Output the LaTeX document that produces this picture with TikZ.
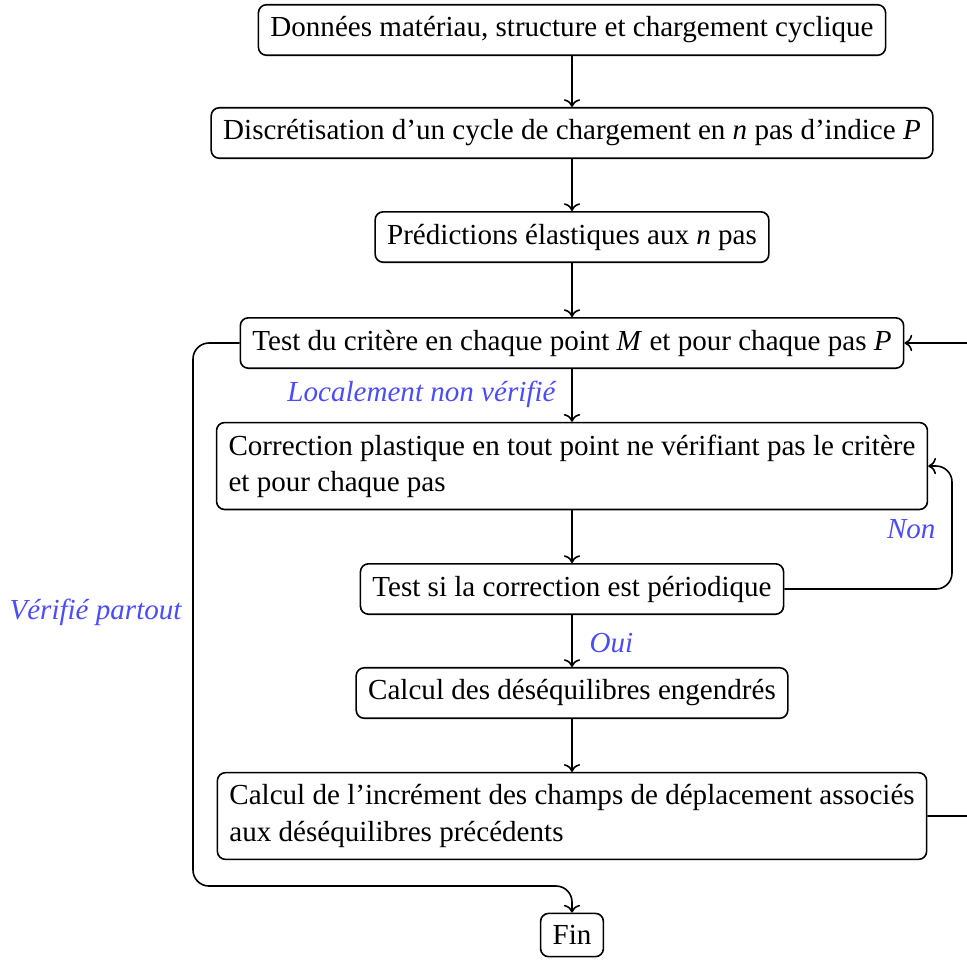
\documentclass[tikz,border=0pt]{standalone}
\usepackage{fontspec}
\setmainfont{Liberation Serif}
\usetikzlibrary{arrows.meta}
\tikzset{
  box/.style={draw, rounded corners=3pt, semithick, inner sep=4.5pt, font=\fontsize{10.9}{13.6}\selectfont},
  widebox/.style={box, align=left},
  flow/.style={->, semithick},
  loop/.style={->, semithick, rounded corners=6pt},
  lab/.style={text=blue!70, font=\fontsize{10.9}{13}\selectfont\itshape, inner sep=0pt}
}
\begin{document}
\begin{tikzpicture}[x=0.375pt, y=-0.375pt]
\useasboundingbox (0,0) rectangle (967,960);
\node[box] (n1) at (572,30) {Données matériau, structure et chargement cyclique};
\node[box] (n2) at (572,133) {Discrétisation d’un cycle de chargement en \textit{n} pas d’indice \textit{P}};
\node[box] (n3) at (572,237) {Prédictions élastiques aux \textit{n} pas};
\node[box] (n4) at (572,343) {Test du critère en chaque point \textit{M} et pour chaque pas \textit{P}};
\node[widebox] (n5) at (572,466) {Correction plastique en tout point ne vérifiant pas le critère\\ et pour chaque pas};
\node[box] (n6) at (572,589) {Test si la correction est périodique};
\node[box] (n7) at (572,693) {Calcul des déséquilibres engendrés};
\node[widebox] (n8) at (572,816) {Calcul de l’incrément des champs de déplacement associés\\ aux déséquilibres précédents};
\node[box] (n9) at (572,935) {Fin};

\draw[flow] (n1) -- (n2);
\draw[flow] (n2) -- (n3);
\draw[flow] (n3) -- (n4);
\draw[flow] (n4) -- (n5);
\draw[flow] (n5) -- (n6);
\draw[flow] (n6) -- (n7);
\draw[flow] (n7) -- (n8);

\coordinate (lc) at (193,886);
\coordinate (rn) at (952,466);
\coordinate (rr) at (985,343);
\draw[loop] (n4.west) -| (lc) -| (n9.north);
\draw[loop] (n6.east) -| (rn) -- (n5.east);
\draw[loop] (n8.east) -| (rr) -- (n4.east);

\node[lab, anchor=east] (l1) at (556,394) {Localement non vérifié};
\node[lab, anchor=west] (l2) at (589,643) {Oui};
\node[lab, anchor=east] (l3) at (936,529) {Non};
\node[lab, anchor=west] (l4) at (9,612) {Vérifié partout};
\end{tikzpicture}
\end{document}
